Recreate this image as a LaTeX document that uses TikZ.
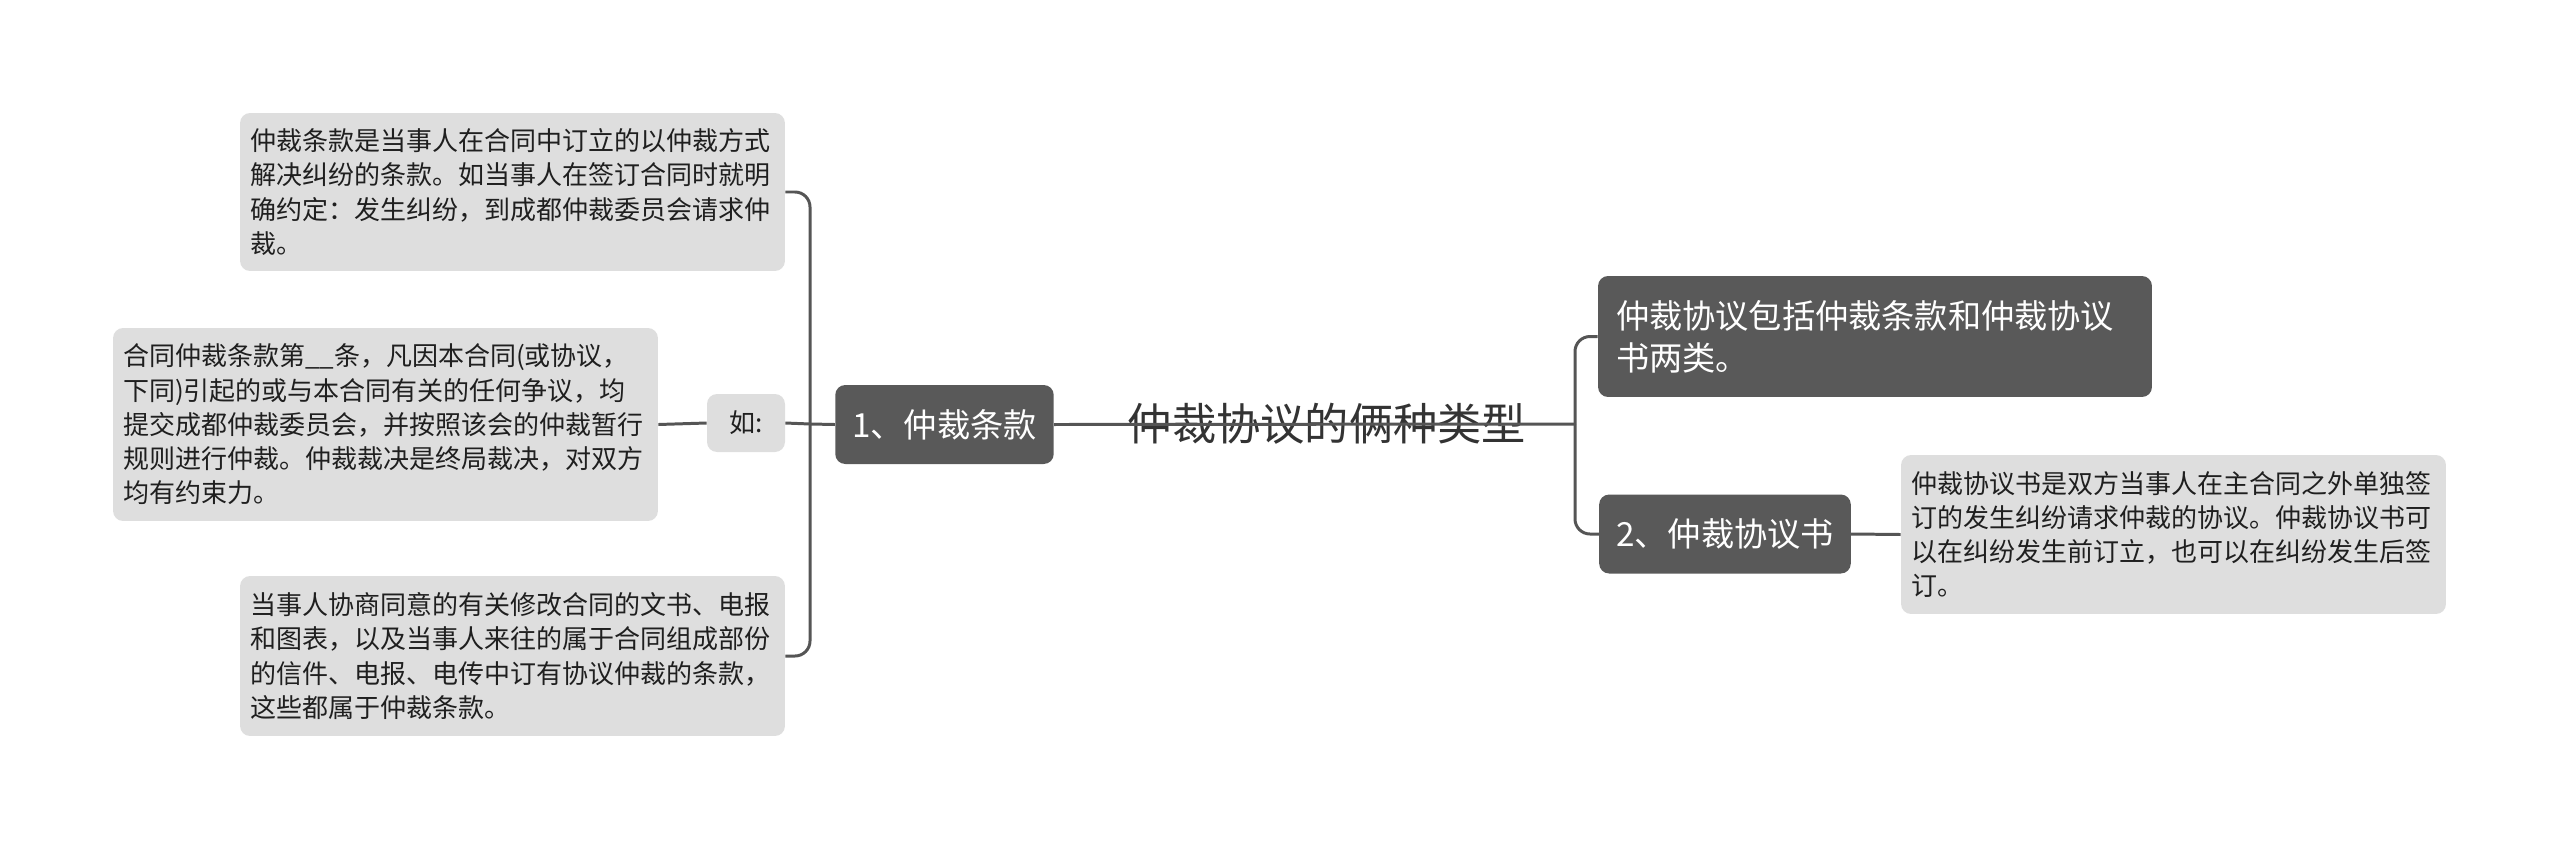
\documentclass[tikz,border=0pt]{standalone}
\usepackage{fontspec}
\setmainfont{Noto Sans CJK SC}
\usetikzlibrary{positioning}
\definecolor{topicgray}{HTML}{595959}
\definecolor{leafgray}{HTML}{DEDEDE}
\definecolor{linegray}{HTML}{555555}
\definecolor{roottext}{HTML}{333333}

\begin{document}
\begin{tikzpicture}[
  x=0.02cm, y=-0.02cm,
  leaf/.style={fill=leafgray, rounded corners=0.2cm, align=left, text width=10.5cm, inner xsep=0.2cm, inner ysep=0pt, text=black!88, font=\fontsize{14.8pt}{19.5pt}\selectfont},
  tag/.style={fill=leafgray, rounded corners=0.2cm, minimum width=1.56cm, minimum height=1.16cm, inner sep=0pt, text=black!88, font=\fontsize{14.8pt}{18pt}\selectfont},
  topic/.style={fill=topicgray, rounded corners=0.2cm, minimum height=1.58cm, inner xsep=0.34cm, inner ysep=0pt, text=white, font=\fontsize{18.9pt}{23.8pt}\selectfont},
  bigtopic/.style={topic, align=left, text width=10.36cm, inner xsep=0.36cm},
  rootlabel/.style={inner sep=0pt, text=roottext, font=\fontsize{25.2pt}{30pt}\selectfont},
  conn/.style={draw=linegray, line width=1.7pt, rounded corners=0.3cm}
]
\useasboundingbox (0,0) rectangle (2560,849);

% --- root ---
\node[rootlabel] (root) at (1327,424) {仲裁协议的俩种类型};

% --- left side: 1、仲裁条款 ---
\node[topic] (clause) at (944.5,424.5) {1、仲裁条款};
\node[tag] (eg) at (746,423) {如:};
\node[leaf, minimum height=3.16cm] (cdef) at (512.5,192)
  {仲裁条款是当事人在合同中订立的以仲裁方式\\解决纠纷的条款。如当事人在签订合同时就明\\确约定：发生纠纷，到成都仲裁委员会请求仲\\裁。};
\node[leaf, minimum height=3.86cm] (cex) at (385.5,424.5)
  {合同仲裁条款第\_\_条，凡因本合同(或协议，\\下同)引起的或与本合同有关的任何争议，均\\提交成都仲裁委员会，并按照该会的仲裁暂行\\规则进行仲裁。仲裁裁决是终局裁决，对双方\\均有约束力。};
\node[leaf, minimum height=3.2cm] (cdoc) at (512.5,656)
  {当事人协商同意的有关修改合同的文书、电报\\和图表，以及当事人来往的属于合同组成部份\\的信件、电报、电传中订有协议仲裁的条款，\\这些都属于仲裁条款。};

% --- right side ---
\node[bigtopic, minimum height=2.42cm] (kinds) at (1875,336.5)
  {仲裁协议包括仲裁条款和仲裁协议\\书两类。};
\node[topic] (book) at (1725,534) {2、仲裁协议书};
\node[leaf, minimum height=3.18cm] (bdef) at (2173.5,534.5)
  {仲裁协议书是双方当事人在主合同之外单独签\\订的发生纠纷请求仲裁的协议。仲裁协议书可\\以在纠纷发生前订立，也可以在纠纷发生后签\\订。};

% --- connectors ---
\coordinate (jl) at (810,424);
\coordinate (jr) at (1575,424);
\draw[conn] (clause.east) -- (jr);
\draw[conn] (jr) |- (kinds.west);
\draw[conn] (jr) |- (book.west);
\draw[conn] (book.east) -- (bdef.west);
\draw[conn] (clause.west) -- (jl);
\draw[conn] (jl) |- (cdef.east);
\draw[conn] (jl) |- (cdoc.east);
\draw[conn] (jl) -- (eg.east);
\draw[conn] (eg.west) -- (cex.east);
\end{tikzpicture}
\end{document}
